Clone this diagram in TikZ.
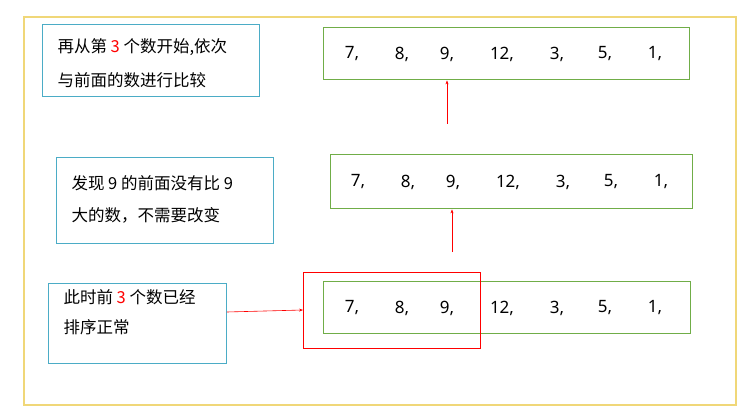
\documentclass[tikz,border=0pt]{standalone}
\usepackage{fontspec}
\setmainfont{Noto Sans}
\newfontfamily\cjk{Noto Sans CJK SC}
\usetikzlibrary{arrows.meta}
\definecolor{ylw}{RGB}{240,215,120}
\definecolor{blu}{RGB}{75,172,198}
\definecolor{grn}{RGB}{112,173,71}
\begin{document}
\begin{tikzpicture}[x=1pt,y=-1pt,
 note/.style={draw=blu,line width=0.8pt,inner sep=0,anchor=north west},
 arr/.style={draw=red,-{Stealth[length=4pt]},line width=0.6pt},
 gbox/.style={draw=grn,line width=1.4pt,anchor=north west,inner sep=0},
 num/.style={font=\fontsize{17}{20}\selectfont}]
\useasboundingbox (0,0) rectangle (747,417);
\fill[white] (0,0) rectangle (747,417);
\draw[ylw,line width=1.5pt] (24,17) rectangle (736,405);
\node[note,minimum width=217pt,minimum height=72pt] (t1) at (42,24) {};
\node[anchor=west,align=left,font=\cjk\fontsize{16.5}{34}\selectfont] at (54,63) {再从第 \textcolor{red}{3} 个数开始,依次\\与前面的数进行比较};
\node[note,minimum width=217pt,minimum height=86pt] (t2) at (56,157) {};
\node[anchor=west,align=left,font=\cjk\fontsize{16.5}{32}\selectfont] at (68,199) {发现 9 的前面没有比 9\\大的数，不需要改变};
\node[note,minimum width=178pt,minimum height=80pt] (t3) at (48,283) {};
\node[anchor=west,align=left,font=\cjk\fontsize{16.5}{30}\selectfont] at (60,312) {此时前 \textcolor{red}{3} 个数已经\\排序正常};
\node[gbox,minimum width=366pt,minimum height=52pt] (g1) at (323,27) {};
\node[gbox,minimum width=362pt,minimum height=54pt] (g2) at (330,154) {};
\node[gbox,minimum width=367pt,minimum height=52pt] (g3) at (323,281) {};
\foreach \x/\v in {352/7,402/8,447/9,502/12,557/3,605/5,655/1}{
 \node[num] at (\x,54) {\v,};
 \node[num] at (\x+6,182) {\v,};
 \node[num] at (\x,308) {\v,};}
\node[draw=red,line width=1.4pt,minimum width=177pt,minimum height=76pt,anchor=north west,inner sep=0] (r) at (303,272) {};
\coordinate (a1) at (447,124); \coordinate (a2) at (452,252);
\draw[arr] (a1) -- (g1.south -| a1);
\draw[arr] (a2) -- (g2.south -| a2);
\draw[arr] (t3.east |- 0,312) -- (r.west |- 0,310);
\end{tikzpicture}
\end{document}
